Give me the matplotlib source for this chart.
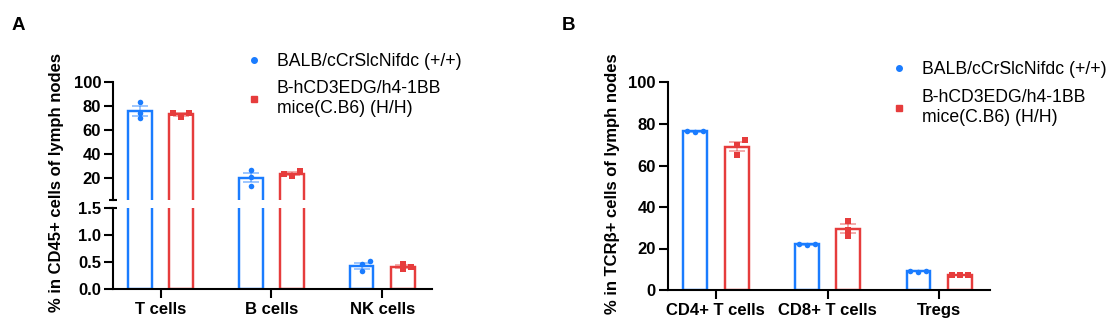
import matplotlib
matplotlib.use("Agg")
import matplotlib.pyplot as plt
import numpy as np
from matplotlib.lines import Line2D

# ---------------- data ----------------
cats_A = ["T cells", "B cells", "NK cells"]
a_wt = [[83.0, 74.0, 69.5], [26.4, 21.1, 13.4], [0.46, 0.32, 0.51]]
a_tg = [[70.4, 74.3, 73.8], [21.7, 25.8, 23.3], [0.36, 0.46, 0.41]]

cats_B = ["CD4+ T cells", "CD8+ T cells", "Tregs"]
b_wt = [[76.2, 76.6, 76.4], [21.8, 22.2, 22.0], [8.9, 9.3, 9.1]]
b_tg = [[69.9, 65.1, 72.3], [33.4, 28.9, 26.2], [7.0, 7.3, 7.1]]

label_wt = "BALB/cCrSlcNifdc (+/+)"
label_tg = "B-hCD3EDG/h4-1BB\nmice(C.B6) (H/H)"
ylabel_A = "% in CD45+ cells of lymph nodes"
ylabel_B = "% in TCR\u03b2+ cells of lymph nodes"
ticks_A_top = [20, 40, 60, 80, 100]
ticks_A_bot = [0.0, 0.5, 1.0, 1.5]
ticks_B = [0, 20, 40, 60, 80, 100]

# ---------------- style ----------------
BLUE = "#1a7cff"
RED = "#e63c3c"
plt.rcParams["font.family"] = ["Liberation Sans", "DejaVu Sans"]
W, H = 1115, 333
fig = plt.figure(figsize=(W / 100, H / 100), dpi=100)

def fx(px):
    return px / W

def fy(py):
    return 1 - py / H

OFF = 0.186
BW = 0.213
XLIM = (-0.43, 2.45)
LW = 1.5
BAR_LW = 1.75

def style_ax(ax):
    for s in ["top", "right"]:
        ax.spines[s].set_visible(False)
    for s in ["left", "bottom"]:
        ax.spines[s].set_linewidth(LW)
    ax.tick_params(axis="both", width=LW, length=6.5, labelsize=12, pad=2)
    for lab in ax.get_yticklabels() + ax.get_xticklabels():
        lab.set_fontweight("bold")
    ax.set_xlim(*XLIM)

def swarm_offsets(ax, xc, vals, diam=5.2, step=8.0):
    placed = []
    out = []
    for v in vals:
        px, py = ax.transData.transform((xc, v))
        for k in [0, 1, -1, 2, -2]:
            cx = px + k * step
            if all(np.hypot(cx - qx, py - qy) > diam for qx, qy in placed):
                break
        placed.append((cx, py))
        out.append(ax.transData.inverted().transform((cx, py))[0])
    return out

def draw_groups(ax, wt, tg):
    ylo = ax.get_ylim()[0]
    x = np.arange(len(wt))
    for grp, sign, col, mk in [(wt, -1, BLUE, "o"), (tg, 1, RED, "s")]:
        means = np.array([np.mean(g) for g in grp])
        sems = np.array([np.std(g, ddof=1) / np.sqrt(len(g)) for g in grp])
        xs = x + sign * OFF
        keep = means > ylo
        ax.bar(xs[keep], means[keep], width=BW, fill=False, edgecolor=col,
               linewidth=BAR_LW, zorder=2)
        ax.errorbar(xs[keep], means[keep], yerr=sems[keep], fmt="none", ecolor=col,
                    alpha=0.55, elinewidth=1.1, capsize=5.5, capthick=1.1, zorder=3)
        for xi, g, k in zip(xs, grp, keep):
            if not k:
                continue
            px = swarm_offsets(ax, xi, g)
            ax.scatter(px, g, s=16, marker=mk, color=col, linewidths=0, zorder=4)

# ---------------- panel A (broken axis) ----------------
axA_top = fig.add_axes([fx(113), fy(200.3), fx(432 - 113), (200.3 - 81.7) / H])
axA_bot = fig.add_axes([fx(113), fy(288.7), fx(432 - 113), (288.7 - 208) / H])
axA_top.set_ylim(1.5, 100)
axA_bot.set_ylim(0, 1.5)
axA_top.set_xlim(*XLIM)
axA_bot.set_xlim(*XLIM)
draw_groups(axA_top, a_wt, a_tg)
draw_groups(axA_bot, a_wt, a_tg)
axA_top.set_yticks(ticks_A_top)
axA_top.set_yticklabels([f"{t:g}" for t in ticks_A_top])
axA_bot.set_yticks(ticks_A_bot)
axA_bot.set_yticklabels([f"{t:.1f}" for t in ticks_A_bot])
axA_bot.set_xticks(range(len(cats_A)))
axA_bot.set_xticklabels(cats_A)
axA_top.set_xticks([])
style_ax(axA_top)
style_ax(axA_bot)
axA_top.spines["bottom"].set_visible(False)
axA_bot.tick_params(axis="x", labelsize=12, pad=3)
for lab in axA_bot.get_xticklabels():
    lab.set_fontweight("bold")
# break caps
for ax, yy in [(axA_top, 0.0), (axA_bot, 1.0)]:
    ax.plot([-0.014, 0.014], [yy, yy], transform=ax.transAxes, color="black",
            lw=LW, clip_on=False, solid_capstyle="butt")

# ---------------- panel B ----------------
axB = fig.add_axes([fx(667.8), fy(290), fx(989.5 - 667.8), (290 - 82.5) / H])
axB.set_ylim(0, 100)
axB.set_xlim(*XLIM)
draw_groups(axB, b_wt, b_tg)
axB.set_yticks(ticks_B)
axB.set_xticks(range(len(cats_B)))
axB.set_xticklabels(cats_B)
style_ax(axB)
axB.tick_params(axis="x", pad=3)
for lab in axB.get_xticklabels():
    lab.set_fontweight("bold")

# ---------------- labels ----------------
fig.text(fx(57), fy(182.5), ylabel_A, rotation=90, ha="center", va="center",
         fontsize=12, fontweight="bold")
fig.text(fx(612.7), fy(184), ylabel_B, rotation=90, ha="center", va="center",
         fontsize=12, fontweight="bold")
fig.text(fx(12), fy(25.5), "A", ha="left", va="center", fontsize=13.5, fontweight="bold")
fig.text(fx(562), fy(25.5), "B", ha="left", va="center", fontsize=13.5, fontweight="bold")

# ---------------- legends ----------------
handles = [Line2D([], [], marker="o", color=BLUE, linestyle="none", markersize=4),
           Line2D([], [], marker="s", color=RED, linestyle="none", markersize=4)]
for ax, lx, ty, ls in [(axA_top, 253.6, 53.5, 0.55), (axB, 898.8, 61.3, 0.62)]:
    fs = 12.7
    ax.legend(handles, [label_wt, label_tg], loc="upper left",
              bbox_to_anchor=(fx(lx - 0.5 * fs * 100 / 72), fy(ty)),
              bbox_transform=fig.transFigure, frameon=False, fontsize=fs,
              handlelength=1.0, handletextpad=0.8, borderpad=0, borderaxespad=0,
              labelspacing=ls)

fig.savefig("out.png", dpi=100)
